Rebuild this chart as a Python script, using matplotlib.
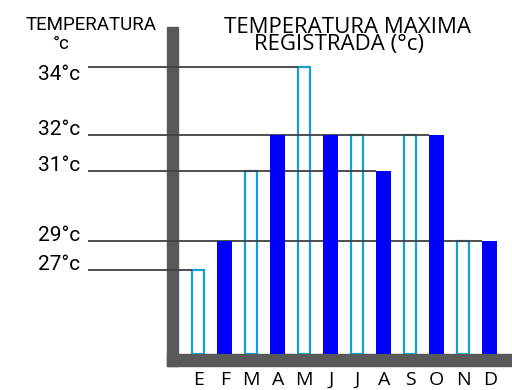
import numpy as np
import matplotlib.pyplot as plt
from matplotlib.patches import Rectangle
from matplotlib.transforms import blended_transform_factory

months = ['E', 'F', 'M', 'A', 'M', 'J', 'J', 'A', 'S', 'O', 'N', 'D']
temps = [27, 29, 31, 32, 34, 32, 32, 31, 32, 32, 29, 29]
levels = [34, 32, 31, 29, 27]

# the original chart is not drawn to scale: piecewise scale anchors (value -> px above base)
scale_vals = [0, 27, 29, 31, 32, 34, 36]
scale_px = [0, 84, 113, 183, 219, 287, 355]

def fwd(v):
    return np.interp(v, scale_vals, scale_px)

def inv(p):
    return np.interp(p, scale_px, scale_vals)

W, H = 512, 390
fig = plt.figure(figsize=(5.12, 3.9), dpi=100)
fx = lambda px: px / W
fy = lambda py: 1 - py / H

ax = fig.add_axes([fx(178), fy(354), fx(512) - fx(178), fy(27) - fy(354)])
ax.patch.set_visible(False)
ax.set_yscale('function', functions=(fwd, inv))
ax.set_ylim(0, 35.18)
ax.set_xlim(-0.766, 11.838)
for s in ax.spines.values():
    s.set_visible(False)
ax.set_yticks([])

x = np.arange(len(months))
vals = np.array(temps)
filled = x % 2 == 1
wf, wo = 0.57, 0.45

ax.bar(x[filled], vals[filled], width=wf, color='#0000ff', zorder=3)
ax.bar(x[~filled], vals[~filled], width=wo, facecolor='none',
       edgecolor='#12a0d0', linewidth=1.6, zorder=2)

ax.set_xticks(x, months, fontsize=14, fontfamily='Open Sans')
ax.tick_params(axis='x', length=0, pad=12)

# thick grey axes
grey = '#595959'
ax.add_patch(Rectangle((fx(167), fy(366)), fx(178) - fx(167), fy(27) - fy(366),
                       transform=fig.transFigure, clip_on=False, color=grey, zorder=0.5))
ax.add_patch(Rectangle((fx(167), fy(366)), fx(512) - fx(167), fy(354) - fy(366),
                       transform=fig.transFigure, clip_on=False, color=grey, zorder=0.5))

# guide lines from the labels to the last bar with that value
x_start = ax.transData.inverted().transform(fig.transFigure.transform((fx(88), 0.5)))[0]
lbl_tr = blended_transform_factory(fig.transFigure, ax.transData)
lbl_dy = [-9, 0, 0, 0, 0]
for lev, dy in zip(levels, lbl_dy):
    last = max(i for i, t in enumerate(temps) if t == lev)
    w = wf if filled[last] else wo
    ax.hlines(lev, x_start, last - w / 2, colors='#404040', lw=1.3, zorder=2.5, clip_on=False)
    ax.annotate(f'{lev}°c', xy=(fx(80), lev), xycoords=lbl_tr, xytext=(0, dy),
                textcoords='offset points', ha='right', va='baseline',
                fontsize=15, fontfamily='Roboto')

fig.text(fx(91), fy(30), 'TEMPERATURA', ha='center', va='baseline',
         fontsize=13.5, fontfamily='Roboto')
fig.text(fx(61), fy(49), '°c', ha='center', va='baseline',
         fontsize=13.5, fontfamily='Roboto')
fig.text(fx(348), fy(33), 'TEMPERATURA MAXIMA', ha='center', va='baseline',
         fontsize=16, fontfamily='Open Sans')
fig.text(fx(339), fy(50), 'REGISTRADA (°c)', ha='center', va='baseline',
         fontsize=16, fontfamily='Open Sans')

fig.savefig('out.png', dpi=100)
